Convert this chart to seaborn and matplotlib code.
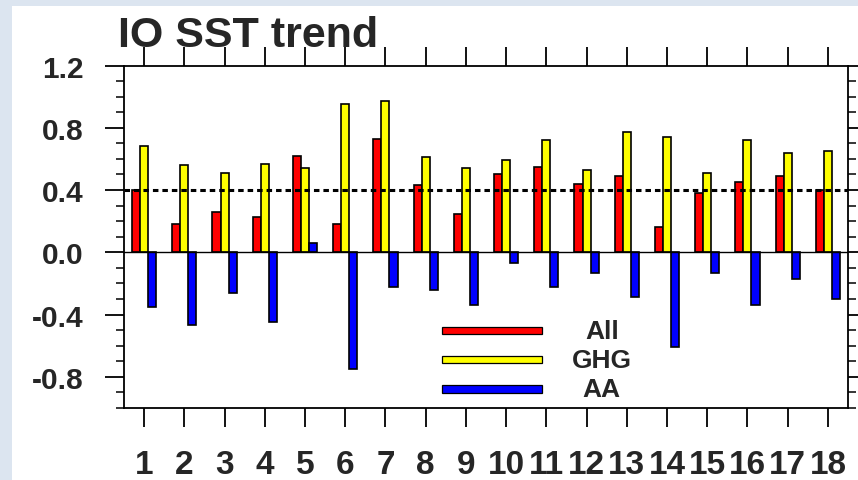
import matplotlib.pyplot as plt
from matplotlib.patches import Rectangle
from matplotlib.ticker import FixedLocator, MultipleLocator
import pandas as pd
import seaborn as sns

# trend per run (18 members) for the three experiments
runs = [str(i) for i in range(1, 19)]
all_trend = [0.40, 0.18, 0.26, 0.23, 0.62, 0.18, 0.73, 0.43, 0.245,
             0.50, 0.55, 0.44, 0.49, 0.16, 0.38, 0.45, 0.49, 0.40]
ghg_trend = [0.68, 0.56, 0.51, 0.57, 0.54, 0.95, 0.97, 0.61, 0.54,
             0.59, 0.72, 0.53, 0.77, 0.74, 0.51, 0.72, 0.64, 0.65]
aa_trend = [-0.35, -0.47, -0.26, -0.45, 0.06, -0.75, -0.22, -0.24, -0.34,
            -0.07, -0.22, -0.13, -0.29, -0.61, -0.13, -0.34, -0.17, -0.30]
experiments = ["All", "GHG", "AA"]
colors = ["#ff0000", "#ffff00", "#0000ff"]
yticks = [-0.8, -0.4, 0.0, 0.4, 0.8, 1.2]
ytick_labels = ["-0.8", "-0.4", "0.0", "0.4", "0.8", "1.2"]
ref_level = 0.4
title = "IO SST trend"

df = pd.DataFrame({
    "run": runs * 3,
    "trend": all_trend + ghg_trend + aa_trend,
    "exp": [e for e in experiments for _ in runs],
})

sns.set_style("ticks")
plt.rcParams["font.family"] = ["Liberation Sans", "DejaVu Sans"]
plt.rcParams["font.weight"] = "bold"

fig = plt.figure(figsize=(8.58, 4.81), dpi=100, facecolor="#dce5f0")
# white slide area
fig.patches.append(Rectangle((12 / 858, 0), 1, 1 - 7 / 481, transform=fig.transFigure,
                             facecolor="white", edgecolor="none", zorder=-1))
ax = fig.add_axes([124 / 858, 1 - 409 / 481, 724 / 858, 342.5 / 481])
ax.set_facecolor("white")

sns.barplot(data=df, x="run", y="trend", hue="exp", order=runs, hue_order=experiments,
            palette=colors, width=0.6, gap=0, edgecolor="black", linewidth=1.2,
            errorbar=None, saturation=1, legend=False, ax=ax, zorder=3)

ax.axhline(0, color="black", lw=1.0, zorder=4)
ax.axhline(ref_level, color="black", lw=2.2, ls=(0, (1.8, 1.3)), zorder=5)

ax.set_xlim(-0.5, len(runs) - 0.5)
ax.set_ylim(-1.0, 1.2)
ax.yaxis.set_major_locator(FixedLocator(yticks))
ax.set_yticklabels(ytick_labels)
ax.yaxis.set_minor_locator(MultipleLocator(0.1))
ax.set_xlabel("")
ax.set_ylabel("")

for s in ax.spines.values():
    s.set_visible(True)
    s.set_linewidth(1.3)
    s.set_color("black")

ax.tick_params(axis="both", which="major", direction="out", length=13.5, width=1.3,
               color="black", top=True, right=True)
ax.tick_params(axis="y", which="minor", direction="out", length=6, width=1.1,
               color="black", right=True, left=True)
ax.tick_params(axis="x", labelsize=24, pad=16)
ax.tick_params(axis="y", labelsize=21.5, pad=15.5)
for lab in ax.get_xticklabels() + ax.get_yticklabels():
    lab.set_fontweight("bold")

# legend drawn by hand: long bars with centred labels
leg_y = [0.226, 0.141, 0.0555]
for name, c, yy in zip(experiments, colors, leg_y):
    ax.add_patch(Rectangle((0.439, yy - 0.011), 0.138, 0.022, transform=ax.transAxes,
                           facecolor=c, edgecolor="black", lw=0.9, zorder=6))
    ax.text(0.660, yy, name, transform=ax.transAxes, ha="center", va="center",
            fontsize=19, fontweight="bold", zorder=6)

fig.text(118 / 858, 1 - 46.7 / 481, title, fontsize=31, fontweight="bold",
         ha="left", va="baseline")

fig.savefig("out.png", dpi=100, facecolor=fig.get_facecolor())
